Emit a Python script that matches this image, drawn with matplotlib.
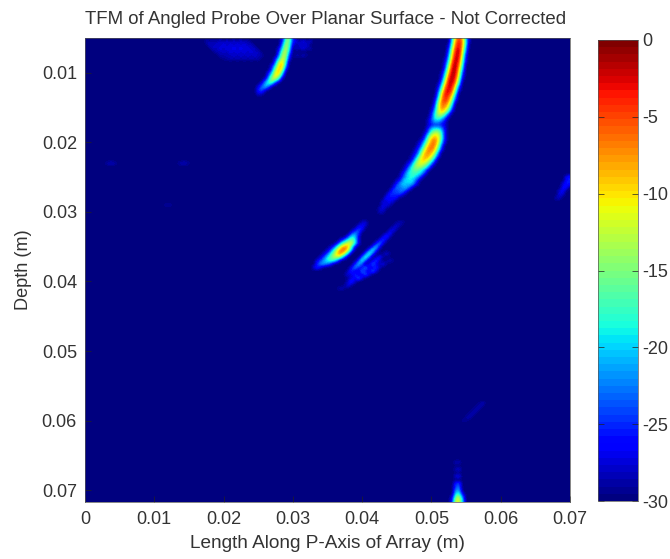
import numpy as np
import matplotlib
matplotlib.use('Agg')
import matplotlib.pyplot as plt

plt.rcParams['font.family'] = ['Liberation Sans', 'DejaVu Sans']
plt.rcParams['axes.unicode_minus'] = False

title = 'TFM of Angled Probe Over Planar Surface - Not Corrected'
xlabel = 'Length Along P-Axis of Array (m)'
ylabel = 'Depth (m)'
xticks = [0, 0.01, 0.02, 0.03, 0.04, 0.05, 0.06, 0.07]
xticklabels = ['0', '0.01', '0.02', '0.03', '0.04', '0.05', '0.06', '0.07']
yticks = [0.01, 0.02, 0.03, 0.04, 0.05, 0.06, 0.07]
yticklabels = ['0.01', '0.02', '0.03', '0.04', '0.05', '0.06', '0.07']
cbar_ticks = [0, -5, -10, -15, -20, -25, -30]

# every row: depth in mm, first length in mm, then dB read every 0.5 mm
main_arc = [
    (5.0, 53.0, [-20, -9, -4, -9, -20, -29]),
    (5.5, 53.0, [-18, -7, -3, -7, -19, -28]),
    (6.0, 52.5, [-28, -16, -6, -2, -8, -20]),
    (6.5, 52.5, [-26, -13, -4, -2, -9, -22]),
    (7.0, 52.5, [-24, -11, -3, -1, -11, -24]),
    (7.5, 52.5, [-22, -9, -2, -2, -13, -26]),
    (8.0, 52.0, [-28, -20, -7, -1, -3, -15, -27]),
    (8.5, 52.0, [-27, -17, -5, -1, -5, -17, -28]),
    (9.0, 52.0, [-25, -14, -3, -1, -7, -19]),
    (9.5, 52.0, [-23, -11, -2, -1, -9, -21]),
    (10.0, 51.5, [-28, -20, -8, -1, -2, -11, -24]),
    (10.5, 51.5, [-27, -17, -5, -1, -3, -13, -26]),
    (11.0, 51.5, [-25, -13, -3, -1, -5, -16, -28]),
    (11.5, 51.0, [-29, -22, -10, -2, -2, -7, -19]),
    (12.0, 51.0, [-27, -18, -6, -2, -3, -12, -24]),
    (12.5, 51.0, [-25, -14, -4, -2, -5, -15, -27]),
    (13.0, 51.0, [-22, -10, -3, -3, -8, -19]),
    (13.5, 50.5, [-29, -20, -8, -3, -5, -12, -23]),
    (14.0, 50.5, [-27, -16, -6, -4, -7, -15, -26]),
    (14.5, 50.5, [-25, -13, -6, -6, -10, -19]),
    (15.0, 50.0, [-29, -23, -12, -7, -8, -13, -23]),
    (15.5, 50.0, [-28, -20, -12, -9, -11, -18, -27]),
    (16.0, 50.0, [-26, -18, -13, -13, -18, -25]),
    (16.5, 49.5, [-29, -25, -18, -17, -19, -24, -29]),
    (17.0, 49.5, [-28, -24, -21, -21, -24, -27]),
    (17.5, 49.5, [-28, -26, -25, -25, -26, -28]),
    (18.0, 49.5, [-26, -21, -19, -19, -22, -27]),
    (18.5, 49.0, [-29, -24, -17, -14, -14, -19, -27]),
    (19.0, 49.0, [-27, -19, -12, -10, -11, -18, -27]),
    (19.5, 48.5, [-29, -24, -15, -9, -7, -10, -18, -27]),
    (20.0, 48.0, [-29, -26, -20, -12, -7, -6, -11, -20, -28]),
    (20.5, 48.0, [-28, -24, -16, -9, -6, -7, -14, -24]),
    (21.0, 47.5, [-29, -26, -20, -12, -7, -6, -9, -17, -26]),
    (21.5, 47.5, [-28, -24, -16, -9, -7, -8, -13, -22]),
    (22.0, 47.0, [-29, -26, -20, -12, -8, -8, -11, -17, -26]),
    (22.5, 47.0, [-28, -23, -15, -10, -9, -11, -15, -23]),
    (23.0, 46.5, [-28, -25, -18, -12, -11, -12, -15, -21, -28]),
    (23.5, 46.0, [-29, -26, -21, -15, -13, -14, -16, -20, -27]),
    (24.0, 46.0, [-28, -23, -18, -16, -16, -18, -21, -27]),
    (24.5, 45.5, [-29, -25, -20, -18, -17, -18, -20, -25]),
    (25.0, 45.5, [-28, -23, -20, -18, -19, -21, -26]),
    (25.5, 45.0, [-28, -25, -20, -19, -19, -21, -26]),
    (26.0, 44.5, [-29, -25, -21, -20, -21, -20, -23, -28]),
    (26.5, 44.5, [-27, -22, -24, -21, -21, -25]),
    (27.0, 44.0, [-28, -23, -25, -22, -23, -27]),
    (27.5, 43.5, [-29, -24, -26, -24, -25, -28]),
    (28.0, 43.5, [-25, -27, -25, -27]),
    (28.5, 43.0, [-27, -28, -26, -28]),
    (29.0, 43.0, [-27, -27, -28]),
    (29.5, 42.5, [-28, -27, -29]),
    (30.0, 42.5, [-28, -28]),
]

centre_blob = [
    (31.5, 40.0, [-28, -27]),
    (32.0, 39.5, [-27, -26, -28]),
    (32.5, 39.0, [-27, -24, -26]),
    (33.0, 38.5, [-26, -22, -24]),
    (33.5, 38.0, [-25, -19, -20, -27]),
    (34.0, 37.0, [-27, -23, -18, -15, -19, -27]),
    (34.5, 36.5, [-26, -19, -14, -11, -12, -18, -27]),
    (35.0, 35.5, [-28, -24, -16, -10, -7, -9, -17, -27]),
    (35.5, 35.0, [-28, -24, -17, -10, -6, -6, -11, -22]),
    (36.0, 34.5, [-28, -24, -18, -13, -8, -7, -12, -22]),
    (36.5, 34.0, [-28, -24, -19, -16, -13, -12, -16, -25]),
    (37.0, 33.5, [-27, -24, -21, -18, -17, -18, -24]),
    (37.5, 33.5, [-25, -22, -21, -23, -26]),
    (38.0, 33.0, [-27, -25, -27]),
]

streak_upper = [
    (31.5, 45.0, [-29, -28, -29]),
    (32.0, 44.5, [-29, -27, -29]),
    (32.5, 44.0, [-29, -26, -29]),
    (33.0, 43.5, [-29, -25, -29]),
    (33.5, 43.0, [-28, -24, -28]),
    (34.0, 42.5, [-28, -23, -28]),
    (34.5, 42.0, [-27, -21, -27]),
    (35.0, 41.5, [-26, -19, -26]),
    (35.5, 41.0, [-24, -17, -24]),
    (36.0, 40.5, [-23, -16, -23]),
    (36.5, 40.0, [-23, -16, -23]),
    (37.0, 39.5, [-24, -17, -24]),
    (37.5, 39.0, [-25, -19, -25]),
    (38.0, 38.5, [-26, -21, -26]),
    (38.5, 38.0, [-28, -24, -28]),
    (39.0, 37.5, [-29, -27, -29]),
]

streak_middle = [
    (36.0, 43.0, [-29, -27, -29]),
    (36.5, 42.0, [-29, -25, -29]),
    (37.0, 41.5, [-28, -23, -28]),
    (37.5, 41.0, [-27, -22, -27]),
    (38.0, 40.0, [-27, -21, -27]),
    (38.5, 39.5, [-27, -22, -27]),
    (39.0, 38.5, [-28, -24, -28]),
    (39.5, 38.0, [-29, -27, -29]),
]

streak_lower = [
    (37.0, 43.5, [-29, -28, -29]),
    (37.5, 42.5, [-29, -26, -29]),
    (38.0, 41.5, [-28, -24, -28]),
    (38.5, 41.0, [-27, -22, -27]),
    (39.0, 40.0, [-27, -22, -27]),
    (39.5, 39.0, [-27, -22, -27]),
    (40.0, 38.0, [-28, -24, -28]),
    (40.5, 37.5, [-29, -26, -29]),
    (41.0, 36.5, [-29, -28, -29]),
]

top_spot = [
    (5.0, 28.5, [-27, -17, -14, -25]),
    (5.5, 28.5, [-25, -15, -15, -26]),
    (6.0, 28.5, [-22, -13, -17, -27]),
    (6.5, 28.0, [-27, -19, -12, -18]),
    (7.0, 28.0, [-25, -15, -12, -21]),
    (7.5, 28.0, [-22, -13, -13, -25]),
    (8.0, 27.5, [-26, -18, -11, -15, -27]),
    (8.5, 27.5, [-23, -12, -9, -18]),
    (9.0, 27.0, [-26, -19, -9, -9, -21]),
    (9.5, 27.0, [-24, -14, -8, -12, -26]),
    (10.0, 26.5, [-26, -20, -10, -9, -18]),
    (10.5, 26.5, [-23, -15, -10, -13, -25]),
    (11.0, 26.0, [-26, -19, -13, -14, -22]),
    (11.5, 25.5, [-27, -21, -17, -18, -27]),
    (12.0, 25.0, [-27, -23, -20, -23]),
    (12.5, 25.0, [-25, -23, -27]),
    (13.0, 25.0, [-27, -28]),
]

top_ripples = [
    (5.5, 17.5, [-28, -29, -28, -29, -27, -29, -27, -29, -27, -29, -27, -29, -28]),
    (6.0, 18.0, [-27, -29, -27, -29, -26, -29, -26, -29, -26, -29, -26, -29, -27]),
    (6.5, 18.5, [-27, -29, -26, -29, -26, -29, -25, -29, -25, -29, -26, -29, -27]),
    (7.0, 19.0, [-28, -29, -27, -29, -26, -29, -26, -29, -26, -29, -26, -29, -27]),
    (7.5, 19.5, [-28, -29, -28, -29, -27, -29, -27, -29, -27, -29, -27, -29, -28]),
    (8.0, 20.0, [-29, -29, -28, -29, -28, -29, -28, -29, -28, -29, -28]),
    (5.5, 30.5, [-26, -29, -26, -29, -27]),
    (6.0, 31.0, [-27, -29, -27]),
    (6.5, 30.5, [-27, -29, -26, -29, -28]),
    (7.5, 30.5, [-28, -29, -28, -29]),
]

bottom_spot = [
    (66.0, 53.5, [-28, -28]),
    (67.0, 53.5, [-28, -27]),
    (68.0, 53.5, [-27, -26]),
    (69.0, 53.5, [-25, -24]),
    (69.5, 53.5, [-24, -23]),
    (70.0, 53.5, [-22, -21]),
    (70.5, 53.5, [-19, -18, -27]),
    (71.0, 53.0, [-27, -15, -13, -22]),
    (71.5, 53.0, [-25, -12, -11, -20]),
    (72.0, 53.0, [-25, -12, -11, -20]),
]

faint_marks = [
    (25.0, 69.5, [-26, -25]),
    (25.5, 69.5, [-26, -25]),
    (26.0, 69.0, [-27, -25, -26]),
    (26.5, 69.0, [-26, -26]),
    (27.0, 68.5, [-27, -26]),
    (27.5, 68.5, [-27, -28]),
    (28.0, 68.0, [-28, -28]),
    (57.5, 57.0, [-29, -28]),
    (58.0, 56.5, [-29, -28]),
    (58.5, 56.0, [-29, -28]),
    (59.0, 55.5, [-29, -28]),
    (59.5, 55.0, [-29, -28]),
    (60.0, 54.5, [-29, -29]),
    (23.0, 3.0, [-29, -28, -28, -29]),
    (23.0, 13.5, [-29, -28, -28, -29]),
    (29.0, 11.5, [-29, -29, -29]),
]

features = [main_arc, centre_blob, streak_upper, streak_middle, streak_lower,
            top_spot, top_ripples, bottom_spot, faint_marks]

# fill a 0.5 mm grid, background is the -30 dB floor
lengths = np.arange(0, 70.5, 0.5)
depths = np.arange(5, 72.5, 0.5)
image = np.full((len(depths), len(lengths)), -30.0)
for feature in features:
    for depth, start, values in feature:
        row = int(round((depth - 5) * 2))
        col = int(round(start * 2))
        for i, value in enumerate(values):
            if col + i < len(lengths):
                image[row, col + i] = max(image[row, col + i], value)

fig = plt.figure(figsize=(6.7, 5.59), dpi=100)
ax = fig.add_axes([85 / 670, 1 - 502 / 559, 485 / 670, 464 / 559])
extent = [-0.00025, 0.07025, 0.07225, 0.00475]
im = ax.imshow(image, cmap=plt.get_cmap('jet', 64), vmin=-30, vmax=0, aspect='auto',
               extent=extent, interpolation='bicubic', interpolation_stage='data')
ax.set_xlim(0, 0.07)
ax.set_ylim(0.0717, 0.005)
ax.set_xticks(xticks)
ax.set_xticklabels(xticklabels)
ax.set_yticks(yticks)
ax.set_yticklabels(yticklabels)
text_color = '#333333'
ax.tick_params(direction='in', length=4, width=0.5, color='#222222', labelcolor=text_color,
               labelsize=13)
ax.tick_params(axis='x', pad=6.8)
ax.tick_params(axis='y', pad=5.8)
for spine in ax.spines.values():
    spine.set_linewidth(0.5)
    spine.set_color('#555555')
ax.set_title(title, fontsize=13.4, color=text_color, pad=10, x=0.495)
ax.set_xlabel(xlabel, fontsize=13.7, color=text_color, labelpad=4.5)
ax.set_ylabel(ylabel, fontsize=13.1, color=text_color, labelpad=7)

cax = fig.add_axes([598 / 670, 1 - 501 / 559, 40 / 670, 461 / 559])
cbar = fig.colorbar(im, cax=cax)
cbar.set_ticks(cbar_ticks)
cbar.set_ticklabels([str(t) for t in cbar_ticks])
cbar.ax.tick_params(direction='in', length=4, width=0.5, left=True, right=True, color='#222222',
                    labelcolor=text_color, labelsize=13, pad=3)
cbar.outline.set_linewidth(0.5)
cbar.outline.set_edgecolor('#555555')

fig.savefig('out.png', dpi=100)
